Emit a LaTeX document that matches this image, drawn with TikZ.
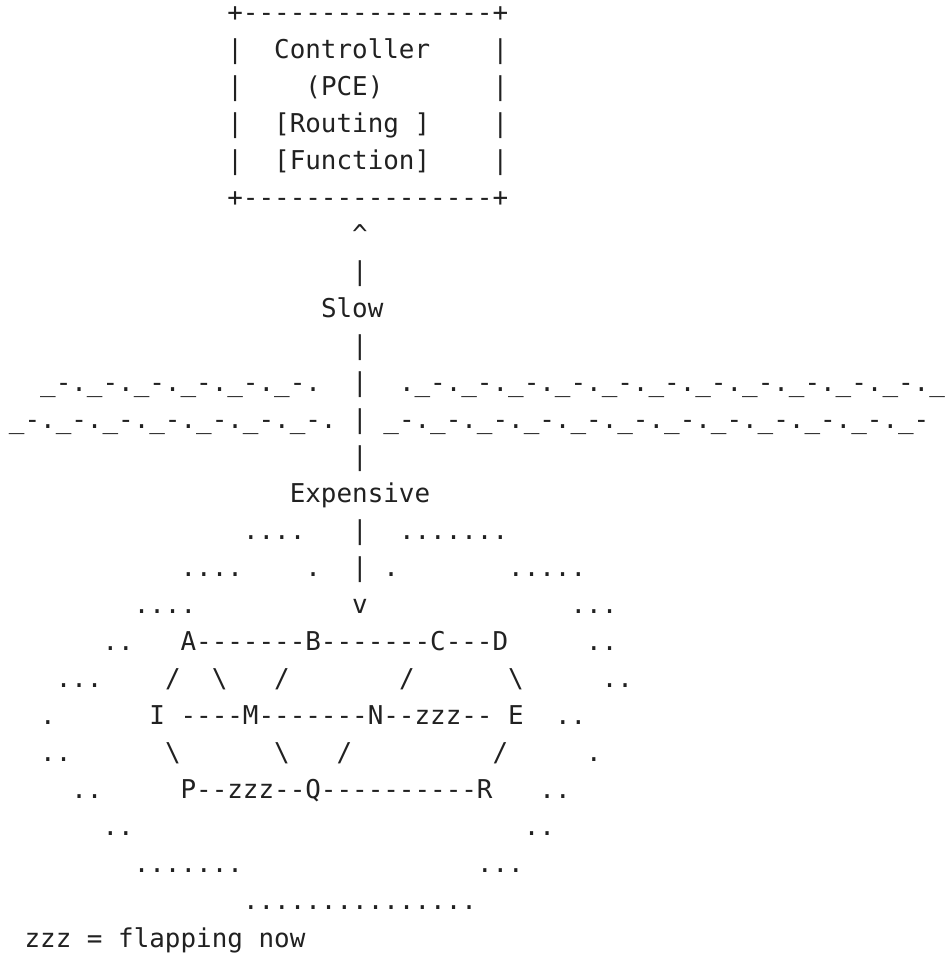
\documentclass[tikz,border=0pt]{standalone}
\usepackage{fontspec}
\setmonofont{DejaVu Sans Mono}[Ligatures=TeXOff]
\definecolor{inkc}{RGB}{33,33,33}
\newcommand\wavegrp{\_-.}
% place text: name, row, column, text
\newcommand\asciitxt[4]{\node[asc] (#1) at ({9+15.6*#3},{-(21+37.04*(#2-1))}) {#4};}
\begin{document}
\begin{tikzpicture}[x=1pt,y=1pt,
  asc/.style={anchor=base west, inner sep=0pt, outer sep=0pt, text=inkc,
    font=\ttfamily\fontsize{25.91}{37.04}\selectfont}]
\useasboundingbox (0,0) rectangle (950,-954);
\fill[white] (0,0) rectangle (950,-954);
% controller box
\asciitxt{boxtop}{1}{14}{+----------------+}
\asciitxt{bl2}{2}{14}{|}
\asciitxt{ctrl}{2}{17}{Controller}
\asciitxt{br2}{2}{31}{|}
\asciitxt{bl3}{3}{14}{|}
\asciitxt{pce}{3}{19}{(PCE)}
\asciitxt{br3}{3}{31}{|}
\asciitxt{bl4}{4}{14}{|}
\asciitxt{routing}{4}{17}{[Routing ]}
\asciitxt{br4}{4}{31}{|}
\asciitxt{bl5}{5}{14}{|}
\asciitxt{function}{5}{17}{[Function]}
\asciitxt{br5}{5}{31}{|}
\asciitxt{boxbot}{6}{14}{+----------------+}
% vertical link
\asciitxt{caret}{7}{22}{\textasciicircum}
\asciitxt{v8}{8}{22}{|}
\asciitxt{slow}{9}{20}{Slow}
\asciitxt{v10}{10}{22}{|}
\asciitxt{waveAl}{11}{2}{\wavegrp\wavegrp\wavegrp\wavegrp\wavegrp\wavegrp}
\asciitxt{v11}{11}{22}{|}
\asciitxt{waveAr}{11}{25}{.\wavegrp\wavegrp\wavegrp\wavegrp\wavegrp\wavegrp\wavegrp\wavegrp\wavegrp\wavegrp\wavegrp\_}
\asciitxt{waveBl}{12}{0}{\wavegrp\wavegrp\wavegrp\wavegrp\wavegrp\wavegrp\wavegrp}
\asciitxt{v12}{12}{22}{|}
\asciitxt{waveBr}{12}{24}{\wavegrp\wavegrp\wavegrp\wavegrp\wavegrp\wavegrp\wavegrp\wavegrp\wavegrp\wavegrp\wavegrp\_-}
\asciitxt{v13}{13}{22}{|}
\asciitxt{expensive}{14}{18}{Expensive}
% network cloud
\asciitxt{d15a}{15}{15}{....}
\asciitxt{v15}{15}{22}{|}
\asciitxt{d15b}{15}{25}{.......}
\asciitxt{d16a}{16}{11}{....}
\asciitxt{d16b}{16}{19}{.}
\asciitxt{v16}{16}{22}{|}
\asciitxt{d16c}{16}{24}{.}
\asciitxt{d16d}{16}{32}{.....}
\asciitxt{d17a}{17}{8}{....}
\asciitxt{arrowv}{17}{22}{v}
\asciitxt{d17b}{17}{36}{...}
\asciitxt{d18a}{18}{6}{..}
\asciitxt{rowABCD}{18}{11}{A-------B-------C---D}
\asciitxt{d18b}{18}{37}{..}
\asciitxt{d19a}{19}{3}{...}
\asciitxt{s19a}{19}{10}{/}
\asciitxt{s19b}{19}{13}{\textbackslash}
\asciitxt{s19c}{19}{17}{/}
\asciitxt{s19d}{19}{25}{/}
\asciitxt{s19e}{19}{32}{\textbackslash}
\asciitxt{d19b}{19}{38}{..}
\asciitxt{d20a}{20}{2}{.}
\asciitxt{rowIMNE}{20}{9}{I ----M-------N--zzz-- E}
\asciitxt{d20b}{20}{35}{..}
\asciitxt{d21a}{21}{2}{..}
\asciitxt{s21a}{21}{10}{\textbackslash}
\asciitxt{s21b}{21}{17}{\textbackslash}
\asciitxt{s21c}{21}{21}{/}
\asciitxt{s21d}{21}{31}{/}
\asciitxt{d21b}{21}{37}{.}
\asciitxt{d22a}{22}{4}{..}
\asciitxt{rowPQR}{22}{11}{P--zzz--Q----------R}
\asciitxt{d22b}{22}{34}{..}
\asciitxt{d23a}{23}{6}{..}
\asciitxt{d23b}{23}{33}{..}
\asciitxt{d24a}{24}{8}{.......}
\asciitxt{d24b}{24}{30}{...}
\asciitxt{d25}{25}{15}{...............}
\asciitxt{legend}{26}{1}{zzz = flapping now}
\end{tikzpicture}
\end{document}
